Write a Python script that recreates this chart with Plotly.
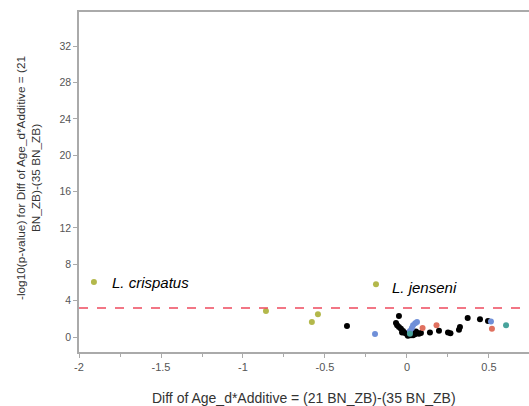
import plotly.graph_objects as go

# Data
black_x = [-0.366, -0.067, -0.049, -0.049, -0.037, -0.024, -0.012, 0.0, 0.012, 0.024, 0.037, 0.049, 0.061, 0.073, 0.085,
           -0.06, -0.03, 0.005, 0.03, 0.055,
           0.14, 0.195, 0.25, 0.265, 0.317, 0.323, 0.37, 0.445, 0.494]
black_y = [1.2, 1.55, 2.3, 1.1, 0.9, 0.65, 0.45, 0.3, 0.2, 0.2, 0.2, 0.3, 0.45, 0.35, 0.45,
           1.3, 0.5, 0.15, 0.35, 0.6,
           0.5, 0.7, 0.5, 0.4, 0.8, 1.1, 2.1, 1.95, 1.75]
olive_x = [-1.909, -0.189, -0.86, -0.58, -0.543]
olive_y = [6.05, 5.8, 2.86, 1.65, 2.5]
blue_x = [-0.195, 0.018, 0.03, 0.037, 0.05, 0.061, 0.512]
blue_y = [0.33, 0.65, 1.0, 1.3, 1.5, 1.65, 1.7]
red_x = [0.095, 0.18, 0.518]
red_y = [1.0, 1.3, 0.9]
teal_x = [0.018, 0.604]
teal_y = [0.35, 1.3]
threshold = 3.2
labels = [("L. crispatus", -1.811, 6.05), ("L. jenseni", -0.104, 5.5)]
x_ticks = [-2, -1.5, -1, -0.5, 0, 0.5]
y_ticks = [0, 4, 8, 12, 16, 20, 24, 28, 32]

fig = go.Figure()
groups = [
    (black_x, black_y, "black"),
    (blue_x, blue_y, "#6f8fd8"),
    (red_x, red_y, "#e0705f"),
    (teal_x, teal_y, "#48a39c"),
    (olive_x, olive_y, "#b3b84b"),
]
for xs, ys, c in groups:
    fig.add_trace(go.Scatter(x=xs, y=ys, mode="markers",
                             marker=dict(color=c, size=6, line=dict(width=0)),
                             showlegend=False, hoverinfo="skip"))

fig.add_shape(type="line", xref="paper", yref="y", x0=0, x1=1, y0=threshold, y1=threshold,
              line=dict(color="#ee4a5e", width=1.5, dash="dash"))

for txt, lx, ly in labels:
    fig.add_annotation(x=lx, y=ly, text="<i>" + txt + "</i>", showarrow=False, xanchor="left",
                       yanchor="middle",
                       font=dict(family="Liberation Sans, Arial", size=15, color="black"))

fig.add_annotation(xref="paper", yref="paper", x=0.5, y=0, yanchor="middle", xanchor="center",
                   yshift=-(398 - 352),
                   text="Diff of Age_d*Additive = (21 BN_ZB)-(35 BN_ZB)", showarrow=False,
                   font=dict(family="Liberation Sans, Arial", size=14, color="#333"))
fig.add_annotation(xref="paper", yref="paper", x=0, y=0.5, xanchor="center", yanchor="middle",
                   xshift=-(79 - 28), yshift=4, textangle=-90,
                   text="-log10(p-value) for Diff of Age_d*Additive = (21<br>BN_ZB)-(35 BN_ZB)",
                   showarrow=False,
                   font=dict(family="Liberation Sans, Arial", size=11.8, color="#333"))

fig.update_layout(
    width=529, height=406,
    margin=dict(l=79, r=0, t=12, b=54),
    plot_bgcolor="white", paper_bgcolor="white",
    font=dict(family="Liberation Sans, Arial", size=10, color="#555"),
    xaxis=dict(range=[-2, 0.744], tickvals=x_ticks, ticktext=[str(v) for v in x_ticks],
               showgrid=False, zeroline=False, showline=True, linecolor="#aaa", linewidth=1.5,
               mirror=True, ticks="outside", ticklen=4, tickcolor="#aaa",
               minor=dict(dtick=0.25, tick0=-2, ticks="outside", ticklen=3, tickcolor="#aaa"),
               tickfont=dict(size=11, color="#555")),
    yaxis=dict(range=[-1.65, 35.75], tickvals=y_ticks, showgrid=False, zeroline=False,
               showline=True, linecolor="#aaa", linewidth=1.5, ticks="outside", ticklen=4,
               tickcolor="#aaa", tickfont=dict(size=10.5, color="#555")),
)

fig.write_html("out.html")
